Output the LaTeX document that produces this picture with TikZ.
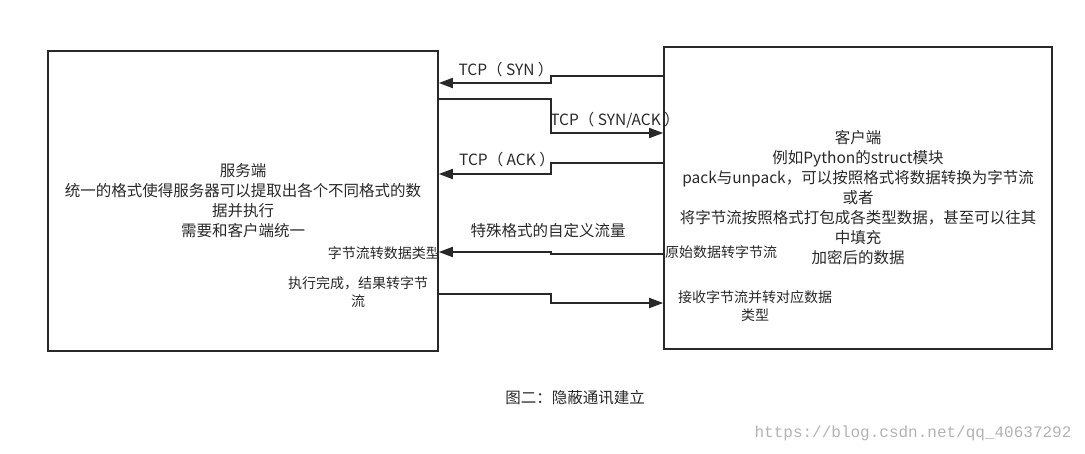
\documentclass[tikz,border=0pt]{standalone}
\usepackage{fontspec}
\setmainfont{Noto Sans CJK SC}
\setmonofont{Liberation Mono}
\usetikzlibrary{arrows.meta}
\definecolor{inkgray}{RGB}{40,40,40}

\begin{document}
\begin{tikzpicture}[
    x=1pt, y=-1pt,
    every node/.style={font=\fontsize{15.5pt}{20pt}\selectfont, text=inkgray},
    box/.style={rectangle, draw=inkgray, line width=1.6pt, align=center},
    msg/.style={draw=inkgray, line width=1.8pt,
        -{Triangle[length=14pt,width=10pt]}},
    lbl/.style={font=\fontsize{14pt}{18pt}\selectfont, inner sep=1pt},
    tcp/.style={font=\fontsize{15.5pt}{18pt}\selectfont, inner sep=1pt},
]
\useasboundingbox (0,0) rectangle (1085,453);

% ====== the two ends ======
\node[box, minimum width=390pt, minimum height=300pt] (server) at (243,201)
    {服务端\\统一的格式使得服务器可以提取出各个不同格式的数\\据并执行\\需要和客户端统一};
\node[box, minimum width=388pt, minimum height=302pt] (client) at (858,198)
    {客户端\\例如Python的struct模块\\pack与unpack，可以按照格式将数据转换为字节流\\或者\\将字节流按照格式打包成各类型数据，甚至可以往其\\中填充\\加密后的数据};

% ====== bends of the messages ======
\coordinate (syn-a)    at (551,76);
\coordinate (syn-b)    at (551,83);
\coordinate (synack-a) at (551,99);
\coordinate (synack-b) at (551,133);
\coordinate (ack-a)    at (551,163);
\coordinate (ack-b)    at (551,174);
\coordinate (flow-a)   at (551,254);
\coordinate (flow-b)   at (551,252);
\coordinate (back-a)   at (551,294);
\coordinate (back-b)   at (551,303);

% client -> server
\foreach \m in {syn, ack, flow}
    \draw[msg] (client.west |- \m-a) -- (\m-a) -- (\m-b) -- (server.east |- \m-b);
% server -> client
\foreach \m in {synack, back}
    \draw[msg] (server.east |- \m-a) -- (\m-a) -- (\m-b) -- (client.west |- \m-b);

% ====== labels ======
\node[tcp] (syn-l)    at (506,70)  {TCP（ SYN ）};
\node[tcp] (synack-l) at (615,120) {TCP（ SYN/ACK ）};
\node[tcp] (ack-l)    at (507,160) {TCP（ ACK ）};
\node[lbl, font=\fontsize{15.5pt}{18pt}\selectfont] (flow-l) at (548,231) {特殊格式的自定义流量};
\node[lbl, anchor=east] (flow-in)  at (441,253) {字节流转数据类型};
\node[lbl, anchor=west] (flow-out) at (664,252) {原始数据转字节流};
\node[lbl, align=center] (back-out) at (358,292) {执行完成，结果转字节\\流};
\node[lbl, align=center] (back-in)  at (755,306) {接收字节流并转对应数据\\类型};

\node (caption) at (575,398) {图二：隐蔽通讯建立};
\node[font=\fontsize{16pt}{18pt}\ttfamily, text=black!30, anchor=east]
    (mark) at (1075,433) {https://blog.csdn.net/qq\_40637292};

\end{tikzpicture}
\end{document}
